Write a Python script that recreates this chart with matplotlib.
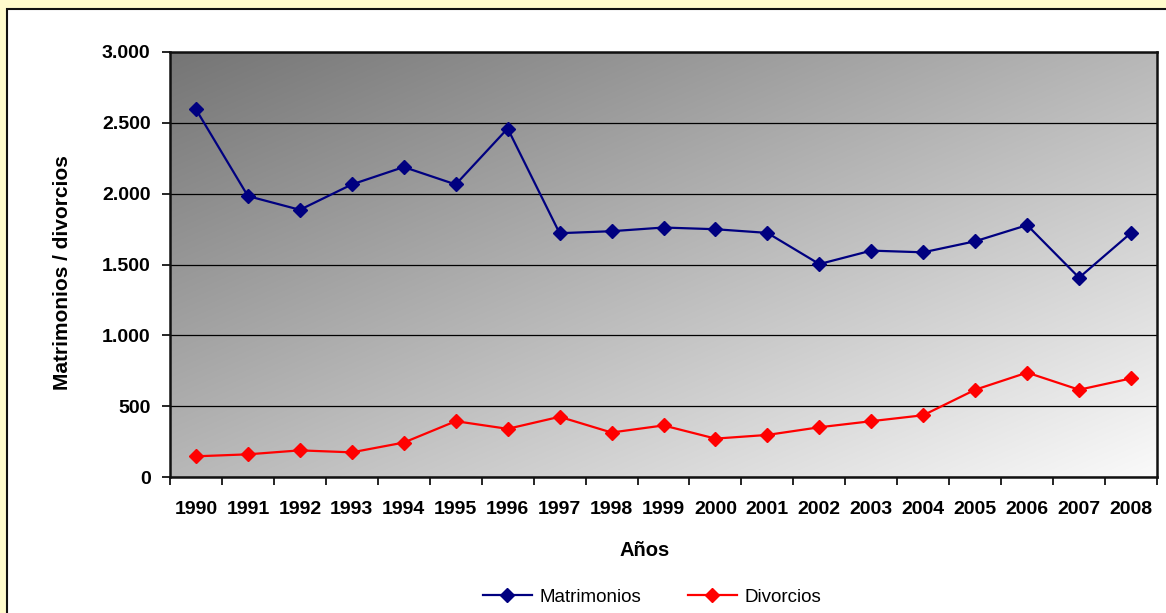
import numpy as np
import matplotlib
matplotlib.use("Agg")
import matplotlib.pyplot as plt
from matplotlib.patches import Rectangle
from matplotlib.ticker import FuncFormatter, FixedLocator

# datos
anios = ['1990', '1991', '1992', '1993', '1994', '1995', '1996', '1997', '1998', '1999',
         '2000', '2001', '2002', '2003', '2004', '2005', '2006', '2007', '2008']
matrimonios = [2595, 1983, 1886, 2065, 2188, 2065, 2460, 1721, 1735, 1761,
               1749, 1723, 1503, 1598, 1586, 1664, 1778, 1407, 1723]
divorcios = [146, 160, 188, 174, 243, 394, 340, 425, 314, 364,
             271, 297, 351, 394, 436, 616, 737, 616, 696]

plt.rcParams['font.family'] = ['Liberation Sans', 'DejaVu Sans']

W, H = 1166, 613
fig = plt.figure(figsize=(W / 100, H / 100), dpi=100, facecolor='#FFFBCC')

# marco blanco del grafico
fig.patches.append(Rectangle((7 / W, -0.01), 1.0, (H - 9) / H + 0.01, transform=fig.transFigure,
                             facecolor='white', edgecolor='#111111', linewidth=1.5, zorder=-5))

left, right, top, bottom = 170, 1157, 52, 477
ax = fig.add_axes([left / W, 1 - bottom / H, (right - left) / W, (bottom - top) / H])
ax.set_zorder(2)
ax.set_facecolor('none')

# fondo degradado
nx, ny = 400, 200
gx, gy = np.meshgrid(np.linspace(0, 1, nx), np.linspace(0, 1, ny))
u = (gx + gy) / 2
grad = 117 + 133 * u
grad = np.stack([grad, grad, grad], axis=-1) / 255.0
ax.imshow(grad, extent=[0, 1, 0, 1], transform=ax.transAxes, aspect='auto', zorder=0,
          origin='upper', interpolation='bilinear')

x = np.arange(len(anios))
ax.plot(x, matrimonios, color='#000080', lw=1.6, marker='D', markersize=7.5, zorder=3,
        label='Matrimonios')
ax.plot(x, divorcios, color='#FF0000', lw=1.6, marker='D', markersize=7.5, zorder=3,
        label='Divorcios')

ax.set_xlim(-0.5, len(anios) - 0.5)
ax.set_ylim(0, 3000)
ax.set_yticks(np.arange(0, 3001, 500))
ax.yaxis.set_major_formatter(FuncFormatter(lambda v, p: f'{int(v):,}'.replace(',', '.')))
ax.grid(axis='y', color='black', linewidth=0.9, zorder=1)
ax.set_axisbelow(False)
for gl in ax.get_ygridlines():
    gl.set_zorder(1)

ax.xaxis.set_major_locator(FixedLocator(np.arange(-0.5, len(anios), 1)))
ax.xaxis.set_major_formatter(FuncFormatter(lambda v, p: ''))
ax.xaxis.set_minor_locator(FixedLocator(x))
ax.set_xticklabels(anios, minor=True)
ax.tick_params(axis='x', which='minor', length=0, pad=17, labelsize=14)
ax.tick_params(axis='x', which='major', length=6, width=1.2, direction='out')
ax.tick_params(axis='y', length=6, width=1.2, direction='out', labelsize=14, pad=8)
for lbl in ax.get_xticklabels(minor=True) + ax.get_yticklabels():
    lbl.set_fontweight('bold')

for s in ax.spines.values():
    s.set_color('#111111')
    s.set_linewidth(1.8)
    s.set_zorder(4)

fig.text(645 / W, 1 - 550 / H, 'Años', fontsize=14.5, fontweight='bold', ha='center', va='center')
fig.text(63 / W, 1 - 273 / H, 'Matrimonios / divorcios', fontsize=15, fontweight='bold',
         rotation=90, ha='center', va='center')

fig.legend(loc='center', bbox_to_anchor=(652 / W, 1 - 597 / H), ncol=2, frameon=False,
           fontsize=13.5, handlelength=2.6, columnspacing=2.5, handletextpad=0.4)

plt.savefig('out.png', dpi=100, facecolor=fig.get_facecolor())
